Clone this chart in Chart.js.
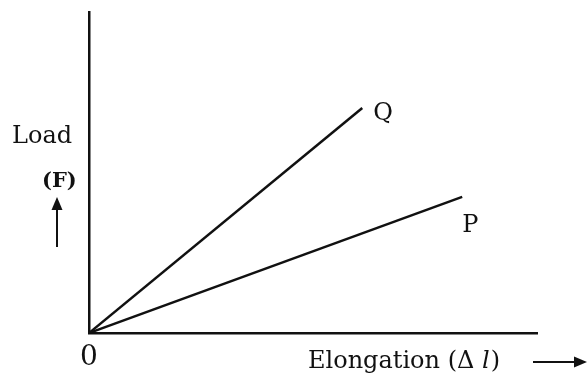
<!DOCTYPE html>
<html>
<head>
<meta charset="utf-8">
<script src="https://cdn.jsdelivr.net/npm/chart.js@4.4.1/dist/chart.umd.min.js"></script>
<style>
  html, body { margin: 0; padding: 0; background: #fff; }
  #wrap { width: 587px; height: 377px; position: relative; }
</style>
</head>
<body>
<div id="wrap"><canvas id="chart_loadElongation" width="587" height="377"></canvas></div>
<script>
// line ends (axes run 0..100 in both directions)
var lineNames = ['Q', 'P'];
var lineEndX = [61.0, 83.3];
var lineEndY = [70.1, 42.4];
var originLabel = '0';
var xAxisLabel = 'Elongation (\u0394 l)';
var yAxisLabel = 'Load';
var yAxisSymbol = '(F)';

var serif = '"DejaVu Serif", "Liberation Serif", serif';

var datasets = lineNames.map(function (name, i) {
    return {
        label: name,
        data: [{ x: 0, y: 0 }, { x: lineEndX[i], y: lineEndY[i] }],
        showLine: true,
        borderColor: '#111',
        borderWidth: 2.5,
        pointRadius: 0,
        fill: false
    };
});

function arrow(ctx, x1, y1, x2, y2) {
    var a = Math.atan2(y2 - y1, x2 - x1);
    var hl = 13, hw = 5.5;
    ctx.beginPath();
    ctx.moveTo(x1, y1);
    ctx.lineTo(x2 - hl * Math.cos(a) * 0.8, y2 - hl * Math.sin(a) * 0.8);
    ctx.stroke();
    ctx.beginPath();
    ctx.moveTo(x2, y2);
    ctx.lineTo(x2 - hl * Math.cos(a) - hw * Math.sin(a), y2 - hl * Math.sin(a) + hw * Math.cos(a));
    ctx.lineTo(x2 - hl * Math.cos(a) + hw * Math.sin(a), y2 - hl * Math.sin(a) - hw * Math.cos(a));
    ctx.closePath();
    ctx.fill();
}

var chart_loadElongation = new Chart(document.getElementById('chart_loadElongation'), {
    type: 'scatter',
    data: { datasets: datasets },
    options: {
        animation: false,
        responsive: false,
        layout: { padding: { left: 89, top: 12, right: 50, bottom: 44 } },
        plugins: {
            legend: { display: false },
            tooltip: { enabled: false }
        },
        scales: {
            x: {
                type: 'linear', min: 0, max: 100,
                grid: { display: false, drawTicks: false },
                ticks: { display: false },
                border: { display: true, color: '#111', width: 2.5 }
            },
            y: {
                type: 'linear', min: 0, max: 100,
                grid: { display: false, drawTicks: false },
                ticks: { display: false },
                border: { display: true, color: '#111', width: 2.5 }
            }
        }
    },
    plugins: [{
        id: 'customPlugin',
        beforeDraw: function (chart) {
            var ctx = chart.ctx;
            ctx.save();
            ctx.fillStyle = 'white';
            ctx.fillRect(0, 0, chart.width, chart.height);
            ctx.restore();
        },
        afterDraw: function (chart) {
            var ctx = chart.ctx;
            var xs = chart.scales.x, ys = chart.scales.y;
            ctx.save();
            ctx.fillStyle = '#111';
            ctx.strokeStyle = '#111';
            ctx.lineWidth = 2;
            ctx.textBaseline = 'alphabetic';
            ctx.textAlign = 'left';

            // curve names next to line ends
            ctx.font = '24px ' + serif;
            ctx.fillText(lineNames[0], xs.getPixelForValue(lineEndX[0]) + 11, ys.getPixelForValue(lineEndY[0]) + 12);
            ctx.fillText(lineNames[1], xs.getPixelForValue(lineEndX[1]) + 0, ys.getPixelForValue(lineEndY[1]) + 35);

            // y axis caption
            ctx.font = '24px ' + serif;
            ctx.fillText(yAxisLabel, 12, 143);
            ctx.font = 'bold 21px ' + serif;
            ctx.fillText(yAxisSymbol, 42, 187);
            arrow(ctx, 57, 247, 57, 197);

            // origin and x axis caption
            ctx.font = '28px ' + serif;
            ctx.fillText(originLabel, 80, 365);
            ctx.font = '24px ' + serif;
            ctx.fillText('Elongation (\u0394 ', 308, 368);
            var w = ctx.measureText('Elongation (\u0394 ').width;
            ctx.font = 'italic 24px ' + serif;
            ctx.fillText('l', 308 + w, 368);
            var w2 = ctx.measureText('l').width;
            ctx.font = '24px ' + serif;
            ctx.fillText(')', 308 + w + w2 + 1, 368);
            arrow(ctx, 533, 362, 587, 362);
            ctx.restore();
        }
    }]
});
</script>
</body>
</html>
